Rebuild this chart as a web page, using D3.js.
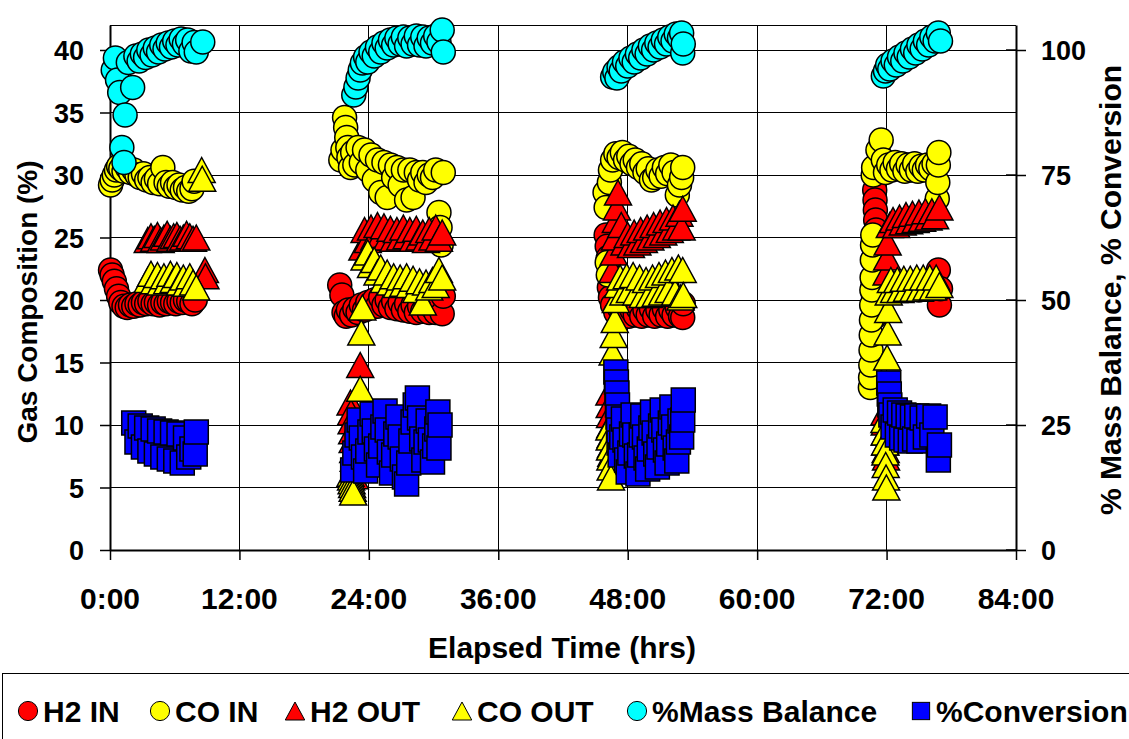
<!DOCTYPE html>
<html>
<head>
<meta charset="utf-8">
<script src="https://cdn.jsdelivr.net/npm/d3@7"></script>
<style>
  html, body { margin: 0; padding: 0; background: #fff; }
  svg { display: block; }
  text { font-family: "Liberation Sans", Arial, sans-serif; font-weight: bold; fill: #000; }
</style>
</head>
<body>
<svg id="chart" width="1129" height="739"></svg>
<script>
// ---- Axis ticks ----
const xTickHours  = [0, 12, 24, 36, 48, 60, 72, 84];
const xTickLabels = ["0:00", "12:00", "24:00", "36:00", "48:00", "60:00", "72:00", "84:00"];
const leftTicks   = [0, 5, 10, 15, 20, 25, 30, 35, 40];
const rightTicks  = [0, 25, 50, 75, 100];

// ---- Series: [elapsed hours, value] ----
// Gas composition (%), left axis
const h2In = [
  [0.05,22.4],[0.2,22.0],[0.4,21.5],[0.6,20.9],[0.8,20.3],[1.0,19.8],[1.3,19.5],[1.6,19.4],[1.9,19.6],[2.2,19.5],
  [2.5,19.7],[2.8,19.6],[3.1,19.8],[3.4,19.7],[3.7,19.9],[4.0,19.7],[4.3,19.8],[4.6,19.6],[4.9,19.8],[5.2,19.7],
  [5.5,19.9],[5.8,19.8],[6.1,19.7],[6.4,19.9],[6.7,19.8],[7.0,20.0],[7.3,19.9],[7.6,19.7],[7.9,20.0],
  [21.3,21.2],[21.5,20.4],[21.7,19.0],[21.9,18.7],[22.1,19.2],[22.4,18.8],[22.7,19.3],[23.0,19.0],[23.3,19.6],[23.6,19.2],
  [23.9,19.8],[24.2,19.4],[24.5,20.0],[24.8,19.5],[25.1,20.2],[25.4,19.6],[25.7,20.0],[26.0,19.4],[26.3,19.9],[26.6,19.3],
  [26.9,19.8],[27.2,19.2],[27.5,19.7],[27.8,19.1],[28.1,19.6],[28.4,19.0],[28.7,19.5],[29.0,19.1],[29.3,19.6],[29.6,19.0],
  [29.9,19.4],[30.2,19.0],[30.5,19.5],[30.8,18.9],[30.9,20.3],
  [46.0,25.2],[46.1,24.3],[46.2,23.4],[46.3,21.0],[46.4,20.2],[46.6,19.6],[46.9,19.0],[47.2,19.4],[47.5,18.8],[47.8,19.3],
  [48.1,18.7],[48.4,19.2],[48.7,18.8],[49.0,19.3],[49.3,18.7],[49.6,19.2],[49.9,18.8],[50.2,19.3],[50.5,18.7],[50.8,19.2],
  [51.1,18.8],[51.4,19.3],[51.7,18.7],[52.0,19.2],[52.3,18.8],[52.6,19.4],[52.9,18.7],[53.1,18.6],[53.15,19.7],
  [70.9,28.8],[70.93,28.0],[70.96,27.2],[70.99,26.4],[71.02,25.6],[70.75,21.4],[70.78,20.4],[70.81,19.4],[70.84,18.6],
  [71.2,20.6],[71.6,21.0],[72.0,20.7],[72.3,21.2],[72.6,20.8],[72.9,21.3],[73.2,20.9],[73.5,21.2],[73.8,20.8],[74.1,21.3],
  [74.4,20.9],[74.7,21.2],[75.0,20.8],[75.3,21.3],[75.6,20.9],[75.9,21.2],[76.2,20.8],[76.5,21.3],[76.8,22.4],[76.9,19.6],[77.0,20.9]
];

const coIn = [
  [0.05,29.2],[0.2,29.6],[0.4,30.0],[0.6,30.4],[0.8,30.7],[1.0,30.5],[1.3,30.3],[1.6,30.6],[1.9,30.2],[2.2,30.4],
  [2.5,30.0],[2.8,29.8],[3.1,30.1],[3.4,29.6],[3.7,29.8],[4.0,29.4],[4.3,29.7],[4.6,29.3],[4.9,30.6],[5.2,29.4],
  [5.5,29.1],[5.8,29.4],[6.1,29.0],[6.4,29.2],[6.7,28.8],[7.0,29.0],[7.3,28.7],[7.6,28.9],[7.8,29.5],
  [21.4,31.2],[21.6,32.0],[21.75,34.6],[21.85,33.8],[21.95,33.0],[22.05,32.2],[22.15,31.4],[22.3,30.6],[22.5,31.8],[22.7,30.8],
  [23.0,32.2],[23.3,31.0],[23.6,32.0],[23.9,30.4],[24.2,31.6],[24.5,29.6],[24.8,31.2],[25.1,28.6],[25.4,31.0],[25.7,28.2],
  [26.0,30.8],[26.3,29.8],[26.6,30.6],[26.9,29.2],[27.2,30.4],[27.5,28.0],[27.8,30.4],[28.1,28.2],[28.4,30.2],[28.7,29.6],
  [29.0,30.2],[29.3,29.4],[29.6,30.0],[29.9,29.8],[30.2,30.4],[30.5,27.0],[30.6,25.8],[30.7,24.4],[30.9,30.2],
  [45.9,28.6],[46.0,27.4],[46.1,23.0],[46.2,22.0],[46.3,29.4],[46.4,30.4],[46.6,31.2],[46.9,31.7],[47.2,31.4],[47.5,31.8],
  [47.8,31.2],[48.1,31.5],[48.4,30.9],[48.7,31.2],[49.0,30.6],[49.3,30.9],[49.6,30.2],[49.9,30.5],[50.2,29.6],[50.5,29.8],
  [50.8,30.4],[51.1,29.9],[51.4,30.6],[51.7,30.1],[52.0,30.8],[52.3,30.2],[52.6,28.4],[52.8,29.2],[53.0,29.8],[53.1,30.6],
  [70.5,13.0],[70.52,13.8],[70.54,14.8],[70.56,16.0],[70.58,17.2],[70.6,18.4],[70.62,19.6],[70.64,20.8],[70.66,21.8],[70.68,23.2],
  [70.7,24.4],[70.72,25.2],[70.76,30.0],[70.8,30.6],[71.2,32.0],[71.5,32.8],[71.7,31.2],[71.9,30.2],[72.2,30.8],[72.5,30.4],
  [72.8,31.0],[73.1,30.5],[73.4,30.9],[73.7,30.3],[74.0,30.8],[74.3,30.4],[74.6,30.9],[74.9,30.3],[75.2,30.7],[75.5,30.4],
  [75.8,30.8],[76.1,30.5],[76.4,30.9],[76.7,28.1],[76.75,29.4],[76.8,30.8],[76.85,31.8]
];

const h2Out = [
  [3.5,24.8],[3.8,25.1],[4.1,24.9],[4.4,25.2],[4.7,24.8],[5.0,25.0],[5.3,25.3],[5.6,24.9],[5.9,25.1],[6.2,25.2],
  [6.5,24.9],[6.8,25.0],[7.1,25.3],[7.4,25.1],[7.7,24.9],[8.0,25.0],[8.8,22.4],[8.85,21.9],
  [22.3,11.8],[22.35,11.0],[22.4,10.3],[22.45,9.5],[22.5,8.8],[22.55,8.0],[22.6,7.3],[22.65,6.6],[22.7,5.9],
  [23.2,14.8],[23.4,24.2],[23.6,25.6],[23.9,24.8],[24.2,25.8],[24.5,25.0],[24.8,26.0],[25.1,25.2],[25.4,25.9],[25.7,25.0],
  [26.0,25.7],[26.3,24.9],[26.6,25.6],[26.9,25.0],[27.2,25.8],[27.5,25.1],[27.8,25.6],[28.1,24.9],[28.4,25.7],[28.7,25.0],
  [29.0,25.4],[29.3,24.8],[29.6,25.6],[29.9,25.0],[30.2,25.8],[30.5,24.9],[30.8,25.4],
  [46.3,12.6],[46.33,11.6],[46.36,10.8],[46.39,10.0],[46.42,9.2],[46.45,8.4],[46.48,7.7],
  [46.6,22.4],[46.7,23.8],[46.8,25.0],[46.9,26.4],[47.0,27.4],[47.1,28.6],[47.4,26.0],[47.7,24.6],[48.0,25.2],[48.3,24.4],
  [48.6,25.4],[48.9,24.6],[49.2,25.6],[49.5,24.8],[49.8,25.8],[50.1,25.0],[50.4,26.0],[50.7,25.2],[51.0,26.2],[51.3,25.4],
  [51.6,26.4],[51.9,25.6],[52.2,26.6],[52.5,25.8],[52.8,26.9],[53.0,25.8],[53.1,27.3],
  [71.8,11.0],[71.83,10.2],[71.86,9.4],[71.89,8.6],[71.92,8.0],[71.95,7.4],
  [72.0,22.2],[72.05,23.4],[72.1,24.6],[72.3,26.0],[72.6,26.4],[72.9,26.0],[73.2,26.6],[73.5,26.2],[73.8,26.8],[74.1,26.3],
  [74.4,26.9],[74.7,26.4],[75.0,27.0],[75.3,26.5],[75.6,27.1],[75.9,26.6],[76.2,27.1],[76.5,26.7],[76.9,27.4]
];

const coOut = [
  [3.5,21.6],[3.8,22.1],[4.1,21.5],[4.4,22.0],[4.7,21.4],[5.0,21.9],[5.3,21.5],[5.6,22.1],[5.9,21.6],[6.2,22.0],
  [6.5,21.4],[6.8,21.8],[7.1,21.3],[7.4,21.9],[7.7,21.4],[8.0,21.0],[8.5,30.4],[8.55,29.7],
  [22.3,6.1],[22.35,5.8],[22.4,5.5],[22.45,5.2],[22.5,4.9],[22.55,4.6],
  [23.2,12.9],[23.3,17.4],[23.4,19.4],[23.6,23.4],[23.9,23.8],[24.2,22.8],[24.5,23.2],[24.8,22.2],[25.1,22.6],[25.4,21.6],
  [25.7,22.2],[26.0,21.4],[26.3,21.9],[26.6,21.2],[26.9,21.8],[27.2,21.3],[27.5,21.9],[27.8,21.2],[28.1,21.7],[28.4,20.8],
  [28.7,21.5],[29.0,19.8],[29.3,21.4],[29.6,21.0],[29.9,21.6],[30.2,21.2],[30.5,22.4],[30.8,21.8],
  [46.3,9.8],[46.33,9.0],[46.36,8.2],[46.39,7.4],[46.42,6.6],[46.45,5.8],
  [46.6,15.8],[46.7,17.2],[46.8,18.4],[46.9,20.0],[47.1,21.2],[47.3,21.8],[47.6,20.6],[47.9,21.9],[48.2,20.8],[48.5,22.0],
  [48.8,20.6],[49.1,21.8],[49.4,20.4],[49.7,21.6],[50.0,20.4],[50.3,21.8],[50.6,20.5],[50.9,22.0],[51.2,20.6],[51.5,22.2],
  [51.8,20.8],[52.1,22.4],[52.4,20.6],[52.7,22.6],[52.9,20.2],[53.1,22.4],[53.15,20.4],
  [71.8,10.4],[71.83,9.4],[71.86,8.6],[71.89,7.8],[71.92,6.8],[71.95,5.8],[71.98,5.0],
  [72.05,15.4],[72.1,17.4],[72.15,19.2],[72.2,20.6],[72.4,21.6],[72.7,20.8],[73.0,21.6],[73.3,20.8],[73.6,21.7],[73.9,20.9],
  [74.2,21.7],[74.5,20.9],[74.8,21.8],[75.1,20.9],[75.4,21.8],[75.7,21.0],[76.0,21.8],[76.3,21.0],[76.6,21.8],[76.9,21.2]
];

// Percent values, right axis
const massBalance = [
  [0.3,96.0],[0.5,98.4],[0.7,94.0],[0.9,91.5],[1.1,80.5],[1.3,77.5],[1.4,87.0],[1.7,97.5],[2.1,92.5],[2.4,98.8],
  [2.7,97.8],[3.0,99.2],[3.3,98.5],[3.6,100.0],[3.9,99.0],[4.2,100.4],[4.5,99.6],[4.8,101.0],[5.1,100.2],[5.4,101.4],
  [5.7,100.6],[6.0,101.8],[6.3,101.0],[6.6,102.2],[6.9,101.2],[7.2,102.0],[7.5,99.8],[7.8,101.5],[8.0,99.6],[8.6,101.6],
  [22.6,91.0],[22.8,92.6],[23.0,94.4],[23.2,96.0],[23.4,97.4],[23.7,98.6],[23.9,97.6],[24.2,99.6],[24.5,98.8],[24.8,100.6],
  [25.1,99.6],[25.4,101.4],[25.7,100.4],[26.0,102.0],[26.3,101.0],[26.6,102.4],[26.9,101.2],[27.2,102.6],[27.5,100.8],[27.8,102.4],
  [28.1,101.2],[28.4,102.8],[28.7,101.0],[29.0,102.6],[29.3,100.8],[29.6,102.4],[29.9,101.4],[30.2,102.8],[30.5,101.6],[30.8,104.0],[30.9,99.6],
  [46.6,94.6],[46.8,95.6],[47.0,94.4],[47.2,96.6],[47.4,95.8],[47.7,97.6],[48.0,96.8],[48.3,98.4],[48.6,97.6],[48.9,99.2],
  [49.2,98.4],[49.5,100.0],[49.8,99.2],[50.1,100.8],[50.4,100.0],[50.7,101.4],[51.0,100.6],[51.3,102.0],[51.6,101.2],[51.9,102.6],
  [52.2,101.8],[52.5,103.2],[52.8,102.4],[53.0,103.4],[53.1,99.4],[53.15,101.2],
  [71.7,94.8],[71.9,95.8],[72.1,97.0],[72.3,96.2],[72.6,97.8],[72.9,97.0],[73.2,98.6],[73.5,97.8],[73.8,99.4],[74.1,98.6],
  [74.4,100.2],[74.7,99.4],[75.0,101.0],[75.3,100.2],[75.6,101.8],[75.9,101.0],[76.2,102.6],[76.5,101.8],[76.8,103.4],[77.0,101.8]
];

const conversion = [
  [2.2,25.4],[2.5,21.6],[2.8,24.8],[3.1,20.6],[3.4,24.4],[3.7,19.8],[4.0,24.2],[4.3,19.2],[4.6,23.8],[4.9,18.6],
  [5.2,23.6],[5.5,18.2],[5.8,23.4],[6.1,17.8],[6.4,23.2],[6.7,17.4],[7.0,22.4],[7.3,18.6],[7.6,20.2],[7.9,19.2],[8.0,23.6],
  [22.5,16.0],[22.7,19.4],[22.9,23.0],[23.1,26.0],[23.3,22.4],[23.5,18.6],[23.7,15.8],[23.9,19.8],[24.1,23.6],[24.3,27.2],
  [24.5,23.8],[24.7,20.2],[24.9,17.0],[25.1,20.8],[25.3,24.6],[25.5,27.8],[25.7,24.0],[25.9,19.6],[26.1,15.4],[26.3,19.0],
  [26.5,23.2],[26.7,26.6],[26.9,22.6],[27.1,18.2],[27.3,14.6],[27.5,13.2],[27.7,17.4],[27.9,21.8],[28.1,25.6],[28.3,29.0],
  [28.5,30.4],[28.7,26.4],[28.9,22.2],[29.1,18.0],[29.3,21.6],[29.5,25.8],[29.7,22.0],[29.9,17.6],[30.1,20.8],[30.3,24.2],
  [30.4,27.6],[30.5,20.4],[30.6,25.0],
  [46.9,35.6],[46.95,33.6],[47.0,31.4],[47.05,29.0],[47.1,26.6],[47.15,24.0],[47.2,21.4],[47.3,19.0],[47.45,22.6],[47.6,26.2],
  [47.75,22.0],[47.9,18.0],[48.05,15.6],[48.2,19.4],[48.35,23.2],[48.5,27.0],[48.65,23.0],[48.8,18.8],[48.95,15.2],[49.1,19.0],
  [49.25,23.0],[49.4,26.8],[49.55,22.6],[49.7,18.4],[49.85,16.2],[50.0,20.2],[50.15,24.4],[50.3,27.6],[50.45,23.4],[50.6,19.2],
  [50.75,16.6],[50.9,20.6],[51.05,24.8],[51.2,28.0],[51.35,24.0],[51.5,20.0],[51.65,17.4],[51.8,21.2],[51.95,25.4],[52.1,28.6],
  [52.25,24.6],[52.4,20.4],[52.55,17.8],[52.7,21.6],[52.85,25.8],[53.0,22.6],[53.1,26.0],[53.15,30.0],
  [72.2,33.4],[72.25,31.2],[72.3,29.0],[72.4,27.0],[72.6,24.6],[72.8,28.0],[73.0,23.0],[73.2,27.4],[73.4,22.4],[73.6,27.0],
  [73.8,22.0],[74.0,26.8],[74.2,21.8],[74.4,26.6],[74.6,22.2],[74.8,26.8],[75.0,21.8],[75.3,26.4],[75.6,22.6],[75.9,26.8],
  [76.2,23.0],[76.5,26.6],[76.8,18.0],[76.9,21.0]
];

const legendNames = ["H2 IN", "CO IN", "H2 OUT", "CO OUT", "%Mass Balance", "%Conversion"];

// ---- Layout ----
const svg = d3.select("#chart");
const plot = { left: 110, right: 1016, top: 25, bottom: 550 };
const FONT = '"Liberation Sans", Arial, sans-serif';

const x  = d3.scaleLinear().domain([0, 84]).range([plot.left, plot.right]);
const yL = d3.scaleLinear().domain([0, 42]).range([plot.bottom, plot.top]);
const yR = d3.scaleLinear().domain([0, 105]).range([plot.bottom, plot.top]);

// Grid
const grid = svg.append("g").attr("shape-rendering", "crispEdges");
grid.selectAll("line.h").data(leftTicks.filter(d => d > 0)).join("line")
  .attr("x1", plot.left).attr("x2", plot.right)
  .attr("y1", d => yL(d)).attr("y2", d => yL(d))
  .attr("stroke", "#000").attr("stroke-width", 1);
grid.selectAll("line.v").data(xTickHours.filter(d => d > 0 && d < 84)).join("line")
  .attr("x1", d => x(d)).attr("x2", d => x(d))
  .attr("y1", plot.top).attr("y2", plot.bottom)
  .attr("stroke", "#000").attr("stroke-width", 1);
grid.append("line").attr("x1", plot.left).attr("x2", plot.right)
  .attr("y1", plot.top).attr("y2", plot.top).attr("stroke", "#000").attr("stroke-width", 1);

// Axes: lines and ticks from d3-axis, labels set explicitly below
function styleAxis(g) {
  g.select(".domain").attr("stroke", "#000").attr("stroke-width", 2);
  g.selectAll(".tick line").attr("stroke", "#000").attr("stroke-width", 1.5);
  g.selectAll(".tick text").remove();
}

const gx = svg.append("g").attr("transform", `translate(0,${plot.bottom})`)
  .call(d3.axisBottom(x).tickValues(xTickHours).tickSize(10).tickSizeOuter(0));
styleAxis(gx);
const gl = svg.append("g").attr("transform", `translate(${plot.left},0)`)
  .call(d3.axisLeft(yL).tickValues(leftTicks).tickSize(10).tickSizeOuter(0));
styleAxis(gl);
const gr = svg.append("g").attr("transform", `translate(${plot.right},0)`)
  .call(d3.axisRight(yR).tickValues(rightTicks).tickSize(10).tickSizeOuter(0));
styleAxis(gr);
// inner half of the cross ticks on the secondary axis
svg.append("g").selectAll("line").data(rightTicks).join("line")
  .attr("x1", plot.right - 10).attr("x2", plot.right)
  .attr("y1", d => yR(d)).attr("y2", d => yR(d))
  .attr("stroke", "#000").attr("stroke-width", 1.5);

// Tick labels
svg.append("g").selectAll("text").data(xTickHours).join("text")
  .attr("x", d => x(d)).attr("y", 609).attr("text-anchor", "middle")
  .attr("font-size", 30).attr("font-family", FONT).attr("font-weight", "bold")
  .text((d, i) => xTickLabels[i]);
svg.append("g").selectAll("text").data(leftTicks).join("text")
  .attr("x", 84).attr("y", d => yL(d) + 10).attr("text-anchor", "end")
  .attr("font-size", 27).attr("font-family", FONT).attr("font-weight", "bold")
  .text(d => d);
svg.append("g").selectAll("text").data(rightTicks).join("text")
  .attr("x", 1041).attr("y", d => yR(d) + 10).attr("text-anchor", "start")
  .attr("font-size", 27).attr("font-family", FONT).attr("font-weight", "bold")
  .text(d => d);

// Axis titles
svg.append("text").attr("transform", "translate(37,302) rotate(-90)")
  .attr("text-anchor", "middle").attr("font-size", 28).text("Gas Composition (%)");
svg.append("text").attr("transform", "translate(1121,290) rotate(-90)")
  .attr("text-anchor", "middle").attr("font-size", 30).text("% Mass Balance, % Conversion");
svg.append("text").attr("x", 562).attr("y", 658)
  .attr("text-anchor", "middle").attr("font-size", 30).text("Elapsed Time (hrs)");

// ---- Markers ----
function drawMarker(sel, shape, s) {
  if (shape === "circle") {
    sel.append("circle").attr("r", 12 * s);
  } else if (shape === "triangle") {
    const w = 13.5 * s, h = 12.5 * s;
    sel.append("path").attr("d", `M0,${-h}L${w},${h}L${-w},${h}Z`);
  } else {
    const a = 12 * s;
    sel.append("rect").attr("x", -a).attr("y", -a).attr("width", 2 * a).attr("height", 2 * a);
  }
}

const series = [
  { name: legendNames[0], data: h2In,        y: yL, shape: "circle",   fill: "#ff0000" },
  { name: legendNames[1], data: coIn,        y: yL, shape: "circle",   fill: "#ffff00" },
  { name: legendNames[2], data: h2Out,       y: yL, shape: "triangle", fill: "#ff0000" },
  { name: legendNames[3], data: coOut,       y: yL, shape: "triangle", fill: "#ffff00" },
  { name: legendNames[4], data: massBalance, y: yR, shape: "circle",   fill: "#00ffff" },
  { name: legendNames[5], data: conversion,  y: yR, shape: "square",   fill: "#0000ff" }
];

series.forEach(s => {
  const g = svg.append("g").attr("fill", s.fill).attr("stroke", "#000").attr("stroke-width", 1.5);
  g.selectAll("g").data(s.data).join("g")
    .attr("transform", d => `translate(${x(d[0])},${s.y(d[1])})`)
    .each(function () { drawMarker(d3.select(this), s.shape, 1); });
});

// ---- Legend ----
svg.append("rect").attr("x", 2.5).attr("y", 673.5).attr("width", 1140).attr("height", 80)
  .attr("fill", "#fff").attr("stroke", "#000").attr("stroke-width", 1);

const legendMarkerX = [28, 160, 295, 462, 637, 921];
const lg = svg.append("g");
series.forEach((s, i) => {
  const m = lg.append("g").attr("transform", `translate(${legendMarkerX[i]},711)`)
    .attr("fill", s.fill).attr("stroke", "#000").attr("stroke-width", 1);
  drawMarker(m, s.shape, s.shape === "circle" ? 0.8 : 0.72);
  lg.append("text").attr("x", legendMarkerX[i] + 15).attr("y", 722)
    .attr("font-size", 30).text(s.name);
});
</script>
</body>
</html>
